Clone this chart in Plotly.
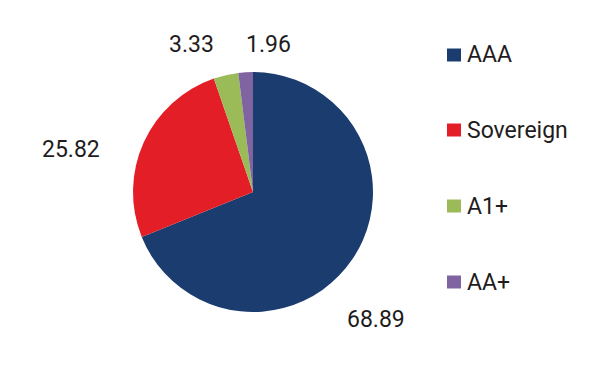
import plotly.graph_objects as go

categories = ["AAA", "Sovereign", "A1+", "AA+"]
values = [68.89, 25.82, 3.33, 1.96]
colors = ["#1a3c6e", "#e31e26", "#9bbb59", "#8064a2"]

# figure size (page body adds an 8px offset, so pixel positions below are figure px)
W, H = 610, 373
TXT = "#1f1c1d"
FONT = "Roboto"

# layout positions (figure pixels) for the data labels and legend rows
label_pos = [(368, 311), (63, 141), (183, 37), (260, 37)]
legend_rows = [47, 122, 198, 274]


def px(x, y):
    return x / W, 1 - y / H


fig = go.Figure()
cx0, cy0 = px(125, 304)
cx1, cy1 = px(365, 64)
fig.add_trace(go.Pie(
    labels=categories, values=values, sort=False, direction="clockwise", rotation=0,
    marker=dict(colors=colors, line=dict(width=0)),
    textinfo="none", showlegend=False, hoverinfo="label+value",
    domain=dict(x=[cx0, cx1], y=[cy0, cy1]),
))

# data labels
for v, (lx, ly) in zip(values, label_pos):
    ax, ay = px(lx, ly)
    fig.add_annotation(xref="paper", yref="paper", x=ax, y=ay, text=f"{v:.2f}",
                       showarrow=False, xanchor="center", yanchor="middle",
                       font=dict(family=FONT, size=23, color=TXT))

# legend (wide spacing)
for cat, col, yy in zip(categories, colors, legend_rows):
    x0, y0 = px(439, yy + 6.5)
    x1, y1 = px(453, yy - 6.5)
    fig.add_shape(type="rect", xref="paper", yref="paper",
                  x0=x0, x1=x1, y0=y0, y1=y1, fillcolor=col, line=dict(width=0))
    tx, ty = px(457, yy)
    fig.add_annotation(xref="paper", yref="paper", x=tx, y=ty,
                       text=cat, showarrow=False, xanchor="left", yanchor="middle",
                       font=dict(family=FONT, size=23, color=TXT))

fig.update_layout(width=W, height=H,
                  margin=dict(l=0, r=0, t=0, b=0, pad=0, autoexpand=False),
                  paper_bgcolor="white", plot_bgcolor="white")
fig.write_html("out.html")
